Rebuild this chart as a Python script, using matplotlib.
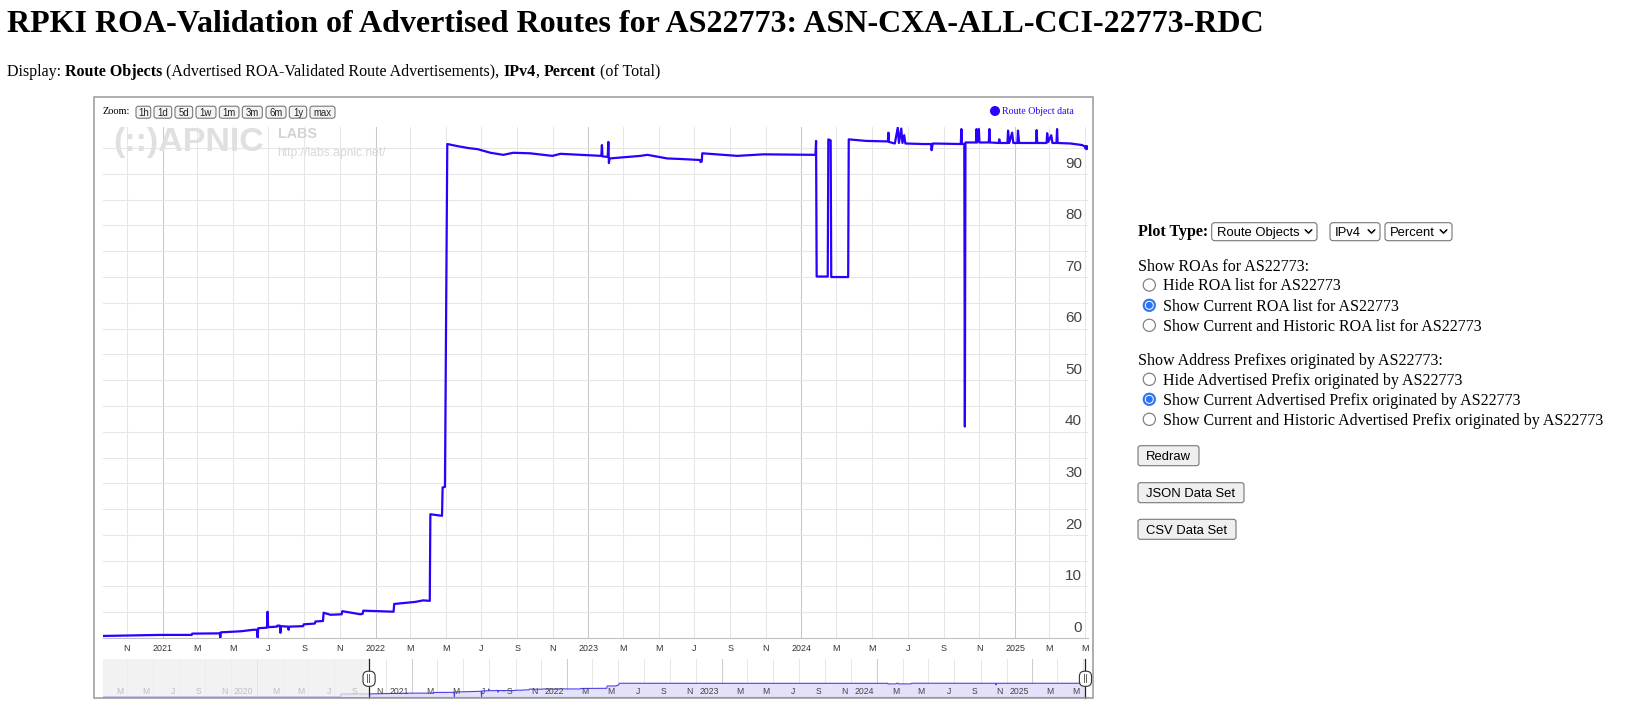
import numpy as np
import pandas as pd
import matplotlib
matplotlib.use("Agg")
import matplotlib.pyplot as plt
import matplotlib.dates as mdates
import matplotlib.transforms as mtransforms
from matplotlib.patches import Rectangle, FancyBboxPatch, Circle

plt.rcParams['font.family'] = ['Liberation Sans', 'DejaVu Sans']

# ---- data: % of advertised IPv4 routes that are ROA-valid
route_dates = [
    "2019-01-05", "2020-07-16", "2020-07-17", "2020-09-22", "2020-11-07", "2020-12-29",
    "2021-02-20", "2021-02-21", "2021-04-09", "2021-04-10", "2021-04-11", "2021-05-15",
    "2021-06-06", "2021-06-12", "2021-06-13", "2021-06-14", "2021-06-29", "2021-06-30",
    "2021-07-01", "2021-07-16", "2021-07-17", "2021-07-21", "2021-07-22", "2021-07-23",
    "2021-08-04", "2021-08-05", "2021-08-06", "2021-08-30", "2021-08-31", "2021-09-19",
    "2021-09-20", "2021-10-03", "2021-10-04", "2021-10-16", "2021-11-04", "2021-11-05",
    "2021-12-06", "2021-12-10", "2021-12-11", "2022-02-01", "2022-02-02", "2022-03-10",
    "2022-03-24", "2022-04-04", "2022-04-05", "2022-04-25", "2022-04-26", "2022-04-30",
    "2022-05-04", "2022-05-21", "2022-06-10", "2022-06-25", "2022-07-17", "2022-08-08",
    "2022-08-25", "2022-09-23", "2022-10-31", "2022-11-14", "2022-12-18", "2023-01-23",
    "2023-01-24", "2023-01-25", "2023-02-03", "2023-02-04", "2023-02-05", "2023-02-06",
    "2023-03-31", "2023-04-12", "2023-05-16", "2023-06-07", "2023-07-11", "2023-07-12",
    "2023-07-14", "2023-07-15", "2023-09-13", "2023-10-28", "2024-01-25", "2024-01-26",
    "2024-01-27", "2024-02-15", "2024-02-16", "2024-02-20", "2024-02-21", "2024-03-21",
    "2024-03-22", "2024-04-21", "2024-05-28", "2024-05-29", "2024-05-30", "2024-06-09",
    "2024-06-14", "2024-06-16", "2024-06-20", "2024-06-22", "2024-06-25", "2024-06-27",
    "2024-07-27", "2024-08-10", "2024-08-11", "2024-08-13", "2024-09-30", "2024-10-01",
    "2024-10-02", "2024-10-06", "2024-10-07", "2024-10-08", "2024-10-26", "2024-10-27",
    "2024-10-28", "2024-10-31", "2024-11-01", "2024-11-17", "2024-11-18", "2024-11-19",
    "2024-12-04", "2024-12-05", "2024-12-06", "2024-12-19", "2024-12-20", "2024-12-22",
    "2024-12-27", "2024-12-29", "2025-01-05", "2025-01-06", "2025-01-08", "2025-02-06",
    "2025-02-07", "2025-02-08", "2025-02-24", "2025-02-25", "2025-02-27", "2025-03-04",
    "2025-03-06", "2025-03-13", "2025-03-14", "2025-03-15", "2025-04-06", "2025-04-26",
    "2025-05-01", "2025-05-02", "2025-05-03", "2025-05-04", "2025-05-05",
]
route_pct = [
    0.1, 0.1, 0.4, 0.4, 0.5, 0.6,
    0.6, 0.85, 0.9, 0.1, 1.1, 1.3,
    1.6, 1.6, 0.1, 1.9, 2.0, 5.1,
    2.1, 2.2, 2.4, 2.4, 1.0, 2.3,
    2.2, 1.6, 2.2, 2.3, 2.65, 2.8,
    3.2, 3.3, 4.9, 4.5, 4.6, 5.2,
    4.6, 4.7, 5.3, 5.1, 6.6, 7.0,
    7.3, 7.2, 24.0, 23.7, 29.2, 29.3,
    95.8, 95.4, 95.0, 94.8, 94.1, 93.7,
    94.1, 94.0, 93.5, 93.9, 93.7, 93.5,
    95.6, 93.4, 93.3, 96.2, 92.1, 93.0,
    93.5, 93.7, 93.0, 92.9, 92.7, 92.3,
    92.4, 94.0, 93.5, 93.8, 93.7, 96.4,
    70.1, 70.1, 96.7, 96.5, 70.0, 70.0,
    96.7, 96.4, 96.3, 98.0, 96.2, 95.9,
    99.0, 96.0, 98.8, 96.0, 97.5, 95.9,
    95.8, 95.8, 94.6, 95.9, 95.8, 98.7,
    95.8, 95.8, 41.0, 96.1, 96.1, 98.7,
    96.1, 98.7, 96.1, 96.1, 98.7, 96.1,
    96.0, 96.7, 96.0, 96.0, 98.4, 96.0,
    98.0, 96.0, 96.0, 98.4, 96.0, 96.0,
    98.5, 96.0, 96.0, 97.9, 96.2, 97.5,
    96.0, 96.0, 98.7, 96.0, 95.9, 95.6,
    95.3, 94.9, 95.4, 94.8, 95.3,
]

y_label_values = [0, 10, 20, 30, 40, 50, 60, 70, 80, 90]
month_initials = ['J', 'F', 'M', 'A', 'M', 'J', 'J', 'A', 'S', 'O', 'N', 'D']
view_start, view_end = "2020-09-21", "2025-05-06"
nav_start, nav_end = "2019-01-03", "2025-05-12"

title_text = "RPKI ROA-Validation of Advertised Routes for AS22773: ASN-CXA-ALL-CCI-22773-RDC"
display_parts = [("Display: ", "normal"), ("Route Objects", "bold"),
                 (" (Advertised ROA-Validated Route Advertisements), ", "normal"),
                 ("IPv4", "bold"), (", ", "normal"), ("Percent", "bold"), (" (of Total)", "normal")]
zoom_buttons = ['1h', '1d', '5d', '1w', '1m', '3m', '6m', '1y', 'max']
select_options = ['Route Objects', 'IPv4', 'Percent']
roa_header = "Show ROAs for AS22773:"
roa_options = ["Hide ROA list for AS22773", "Show Current ROA list for AS22773",
               "Show Current and Historic ROA list for AS22773"]
prefix_header = "Show Address Prefixes originated by AS22773:"
prefix_options = ["Hide Advertised Prefix originated by AS22773",
                  "Show Current Advertised Prefix originated by AS22773",
                  "Show Current and Historic Advertised Prefix originated by AS22773"]
buttons = ['Redraw', 'JSON Data Set', 'CSV Data Set']
legend_label = "Route Object data"

# ---- figure
W, H = 1643, 706
fig = plt.figure(figsize=(W / 100, H / 100), dpi=100)
fig.patch.set_facecolor('white')

t = pd.to_datetime(route_dates)
v = np.array(route_pct)
line_color = '#2b00ff'
v0, v1 = pd.Timestamp(view_start), pd.Timestamp(view_end)
n0, n1 = pd.Timestamp(nav_start), pd.Timestamp(nav_end)
loc = mdates.MonthLocator(bymonth=[1, 3, 5, 7, 9, 11])

# main plot
ax = fig.add_axes([103 / W, 1 - 638 / H, 985 / W, 511 / H])
ax.plot(t, v, color=line_color, lw=1.6, zorder=3)
ax.set_xlim(v0, v1)
ax.set_ylim(0, 99.1)
ax.set_yticks(np.arange(0, 100, 5))
ax.yaxis.grid(True, color='#e6e6e6', lw=0.75)
ax.tick_params(axis='y', length=0, labelleft=False)
for s in ['top', 'right', 'left']:
    ax.spines[s].set_visible(False)
ax.spines['bottom'].set_color('#c0c0c0')
ax.spines['bottom'].set_linewidth(0.8)

ticks = [x for x in loc.tick_values(v0.to_pydatetime(), v1.to_pydatetime())
         if mdates.date2num(v0) <= x <= mdates.date2num(v1)]
labels = []
for x in ticks:
    d = mdates.num2date(x)
    labels.append(str(d.year) if d.month == 1 else month_initials[d.month - 1])
    ax.axvline(x, color='#c8c8c8' if d.month == 1 else '#e6e6e6', lw=0.75, zorder=1)
ax.set_xticks(ticks, labels)
ax.tick_params(axis='x', length=0, pad=4, labelsize=6.4, labelcolor='#333333')

ylab_tr = mtransforms.offset_copy(ax.get_yaxis_transform(), fig=fig, x=-6, y=10.3, units='dots')
for val in y_label_values:
    ax.text(1.0, val, str(val), transform=ylab_tr, ha='right', va='center',
            fontsize=11, color='#444444')

# navigator
axn = fig.add_axes([103 / W, 1 - 697 / H, 985 / W, 38 / H])
axn.set_yscale('log')
axn.fill_between(t, v, 1e-3, color='#e4e1fb', lw=0, zorder=1.5)
axn.plot(t, v, color='#4d3ff0', lw=0.8, zorder=2)
axn.set_xlim(n0, n1)
axn.set_ylim(0.083, 2.5e7)
axn.set_xticks([])
axn.set_yticks([])
axn.minorticks_off()
axn.tick_params(which='both', length=0, labelleft=False, labelbottom=False)
for s in ['top', 'right', 'left']:
    axn.spines[s].set_visible(False)
axn.spines['bottom'].set_color('#999999')
axn.spines['bottom'].set_linewidth(0.8)

nav_lab_tr = mtransforms.offset_copy(axn.get_xaxis_transform(), fig=fig, x=-3.5, y=0, units='dots')
for x in loc.tick_values(n0.to_pydatetime(), n1.to_pydatetime()):
    if not (mdates.date2num(n0) < x <= mdates.date2num(n1)):
        continue
    d = mdates.num2date(x)
    axn.axvline(x, color='#cccccc' if d.month == 1 else '#e8e8e8', lw=0.75, zorder=1)
    lab = str(d.year) if d.month == 1 else month_initials[d.month - 1]
    axn.text(x, 0.14, lab, transform=nav_lab_tr, ha='right', va='center',
             fontsize=6.2, color='#444444', zorder=3)

axn.axvspan(n0, v0, color='#eeeeee', alpha=0.72, lw=0, zorder=5)
for edge in (v0, v1):
    axn.plot([edge, edge], [-0.03, 1.0], transform=axn.get_xaxis_transform(),
             color='#222222', lw=0.9, clip_on=False, zorder=6)
    axn.text(edge, 0.48, '||', transform=axn.get_xaxis_transform(), ha='center', va='center',
             fontsize=6.3, family='DejaVu Sans', color='#333333', zorder=7, clip_on=False,
             bbox=dict(boxstyle='round,pad=0.35,rounding_size=0.6', fc='white', ec='#333333', lw=0.8))

# ---- page overlay in pixel coordinates
ov = fig.add_axes([0, 0, 1, 1])
ov.set_xlim(0, W)
ov.set_ylim(H, 0)
ov.axis('off')
ov.patch.set_alpha(0)

serif = 'Liberation Serif'
ov.text(7, 32.5, title_text, fontsize=23, fontweight='bold', family=serif, va='baseline')

prev = ov.text(7, 75.5, display_parts[0][0], fontsize=11.5, family=serif, va='baseline')
for txt, wt in display_parts[1:]:
    prev = ov.annotate(txt, xy=(1, 0), xycoords=prev, fontsize=11.5, family=serif,
                       fontweight=wt, va='bottom', ha='left')

# chart frame
ov.add_patch(Rectangle((94, 97), 999, 601, fc='none', ec='#999999', lw=1.1))

# zoom buttons
ov.text(103, 112, "Zoom:", fontsize=7.5, family=serif, va='center')
zoom_x = [(136, 150.7), (154, 171.7), (175, 192.7), (196, 216), (219.3, 239),
          (242.3, 262.3), (266, 286), (289.3, 306.7), (310, 335)]
for lab, (xa, xb) in zip(zoom_buttons, zoom_x):
    ov.add_patch(FancyBboxPatch((xa, 106.2), xb - xa, 12, boxstyle='round,pad=0,rounding_size=2.5',
                                fc='#f4f4f4', ec='#707070', lw=0.75))
    ov.text((xa + xb) / 2, 112.6, lab, fontsize=6.9, ha='center', va='center', color='#222222')

# legend
ov.add_patch(Circle((995, 111), 4.3, color=line_color))
ov.text(1001.7, 111.5, legend_label, fontsize=7.1, family=serif, color=line_color, va='center')

# watermark
ov.text(113, 142.5, "(::)APNIC", fontsize=24.5, fontweight='bold', color='#e0e0e0', va='center')
ov.text(278, 134, "LABS", fontsize=10.3, fontweight='bold', color='#d2d2d2', va='center')
ov.text(277, 153, "http://labs.apnic.net/", fontsize=8.7, color='#d8d8d8', va='center')

# right-hand form
def serif_line(x, yc, s, bold=False):
    ov.text(x, yc + 5.3, s, fontsize=11.5, family=serif, va='baseline',
            fontweight='bold' if bold else 'normal')

serif_line(1138, 230.7, "Plot Type:", bold=True)
sel_boxes = [(1211.7, 1317), (1330, 1380), (1385, 1452)]
for lab, (xa, xb) in zip(select_options, sel_boxes):
    ov.add_patch(FancyBboxPatch((xa, 222.7), xb - xa, 18, boxstyle='round,pad=0,rounding_size=3',
                                fc='white', ec='#767676', lw=0.8))
    ov.text(xa + 5, 231.7 + 4.7, lab, fontsize=9.4, va='baseline')
    cx = xb - 8.5
    ov.plot([cx - 3.3, cx, cx + 3.3], [229.8, 233.1, 229.8], color='black', lw=1.1,
            solid_capstyle='round', solid_joinstyle='round')

def radio(yc, label, selected):
    if selected:
        ov.add_patch(Circle((1149.3, yc), 6.3, fc='#2d74f0', ec='#2d74f0', lw=0.5))
        ov.add_patch(Circle((1149.3, yc), 4.5, fc='white', ec='none'))
        ov.add_patch(Circle((1149.3, yc), 3.5, fc='#2d74f0', ec='none'))
    else:
        ov.add_patch(Circle((1149.3, yc), 6.1, fc='white', ec='#767676', lw=0.8))
    serif_line(1163.3, yc, label)

serif_line(1138, 265.7, roa_header)
for i, (yc, lab) in enumerate(zip([285, 305.3, 325.3], roa_options)):
    radio(yc, lab, i == 1)
serif_line(1138, 360, prefix_header)
for i, (yc, lab) in enumerate(zip([379.3, 399.3, 419.3], prefix_options)):
    radio(yc, lab, i == 1)

btn_boxes = [(1138, 1199, 445.7), (1138, 1244, 482.7), (1138, 1236, 519.3)]
for lab, (xa, xb, ya) in zip(buttons, btn_boxes):
    ov.add_patch(FancyBboxPatch((xa, ya), xb - xa, 20, boxstyle='round,pad=0,rounding_size=2.5',
                                fc='#efefef', ec='#767676', lw=0.8))
    ov.text((xa + xb) / 2, ya + 10 + 4.7, lab, fontsize=9.4, ha='center', va='baseline')

fig.savefig('out.png', dpi=100)
